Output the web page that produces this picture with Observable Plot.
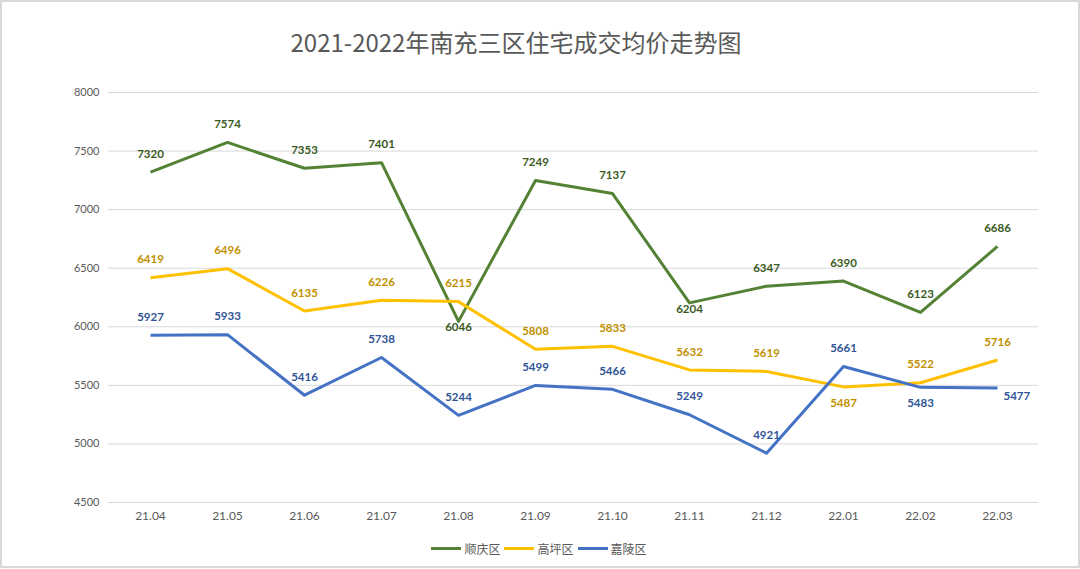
<!DOCTYPE html>
<html>
<head>
<meta charset="utf-8">
<script src="https://cdn.jsdelivr.net/npm/d3@7"></script>
<script src="https://cdn.jsdelivr.net/npm/@observablehq/plot@0.6"></script>
<style>
  html, body { margin: 0; padding: 0; background: #fff; }
  #wrap { position: relative; width: 1080px; height: 569px; overflow: hidden; background: #fff; }
  #border { position: absolute; left: 0; top: 0; width: 1080px; height: 568px; box-sizing: border-box; border: 2px solid #d9d9d9; }
  #title { position: absolute; left: 0; top: 26px; width: 1032px; text-align: center; font-family: "Noto Sans CJK SC", sans-serif; font-size: 24px; line-height: 32px; color: #595959; }
  #chart { position: absolute; left: 0; top: 0; }
  #legend { position: absolute; left: 0; width: 1078px; top: 540px; height: 16px; display: flex; justify-content: center; align-items: center; font-family: "Noto Sans CJK SC", sans-serif; font-size: 12px; color: #595959; }
  .item { display: flex; align-items: center; margin: 0 2px; }
  .swatch { display: inline-block; width: 30px; height: 3px; margin-right: 3px; }
</style>
</head>
<body>
<div id="wrap">
  <div id="border"></div>
  <div id="title">2021-2022年南充三区住宅成交均价走势图</div>
  <div id="chart"></div>
  <div id="legend"></div>
</div>
<script>
// ---- data ----
const months = ["21.04","21.05","21.06","21.07","21.08","21.09","21.10","21.11","21.12","22.01","22.02","22.03"];
const seriesNames = ["顺庆区","高坪区","嘉陵区"];
const shunqing = [7320, 7574, 7353, 7401, 6046, 7249, 7137, 6204, 6347, 6390, 6123, 6686];
const gaoping  = [6419, 6496, 6135, 6226, 6215, 5808, 5833, 5632, 5619, 5487, 5522, 5716];
const jialing  = [5927, 5933, 5416, 5738, 5244, 5499, 5466, 5249, 4921, 5661, 5483, 5477];
// label placement: a = above, u = just under, b = below, r = right
const shunqingPos = ["a","a","a","a","u","a","a","u","a","a","a","a"];
const gaopingPos  = ["a","a","a","a","a","a","a","a","a","b","a","a"];
const jialingPos  = ["a","a","a","a","a","a","a","a","a","a","b","r"];
const yTicks = [4500, 5000, 5500, 6000, 6500, 7000, 7500, 8000];

const lineColors  = ["#548235", "#FFC000", "#4472C4"];
const labelColors = ["#3A5A22", "#BF9000", "#2F5597"];

const valuesBySeries = [shunqing, gaoping, jialing];
const posBySeries = [shunqingPos, gaopingPos, jialingPos];
const data = [];
seriesNames.forEach((s, si) => {
  months.forEach((m, i) => {
    data.push({series: s, month: m, value: valuesBySeries[si][i], pos: posBySeries[si][i]});
  });
});

const W = 1080, H = 530;
const labelFont = {fontFamily: "Lato, sans-serif", fontSize: 11.5, fontWeight: "bold"};
const textFor = (pos, opts) => Plot.text(data.filter(d => d.pos === pos), {
  x: "month", y: "value", text: d => String(d.value),
  fill: d => labelColors[seriesNames.indexOf(d.series)],
  ...labelFont, ...opts
});

const chart = Plot.plot({
  width: W, height: H,
  marginTop: 92, marginBottom: H - 502, marginLeft: 108, marginRight: W - 1038,
  style: {fontFamily: "Lato, sans-serif", fontSize: "11px", color: "#595959", background: "transparent"},
  x: {type: "point", domain: months, padding: 0.5, label: null},
  y: {domain: [4500, 8000], ticks: yTicks, label: null},
  color: {domain: seriesNames, range: lineColors},
  marks: [
    Plot.gridY(yTicks, {stroke: "#d9d9d9", strokeOpacity: 1, strokeWidth: 1}),
    Plot.axisY(yTicks, {tickSize: 0, tickPadding: 9, fill: "#595959", fontSize: 11, label: null, tickFormat: d => String(d)}),
    Plot.axisX({tickSize: 0, tickPadding: 9, fill: "#595959", fontSize: 12, label: null}),
    Plot.line(data, {x: "month", y: "value", z: "series", stroke: "series", strokeWidth: 3, strokeLinejoin: "round", strokeLinecap: "butt"}),
    textFor("a", {dy: -18}),
    textFor("u", {dy: 6}),
    textFor("b", {dy: 16}),
    textFor("r", {dy: 8, dx: 6, textAnchor: "start"})
  ]
});
document.getElementById("chart").appendChild(chart);

// legend
const legend = document.getElementById("legend");
seriesNames.forEach((s, i) => {
  const item = document.createElement("div");
  item.className = "item";
  const sw = document.createElement("span");
  sw.className = "swatch";
  sw.style.background = lineColors[i];
  const t = document.createElement("span");
  t.textContent = s;
  item.appendChild(sw);
  item.appendChild(t);
  legend.appendChild(item);
});
</script>
</body>
</html>
